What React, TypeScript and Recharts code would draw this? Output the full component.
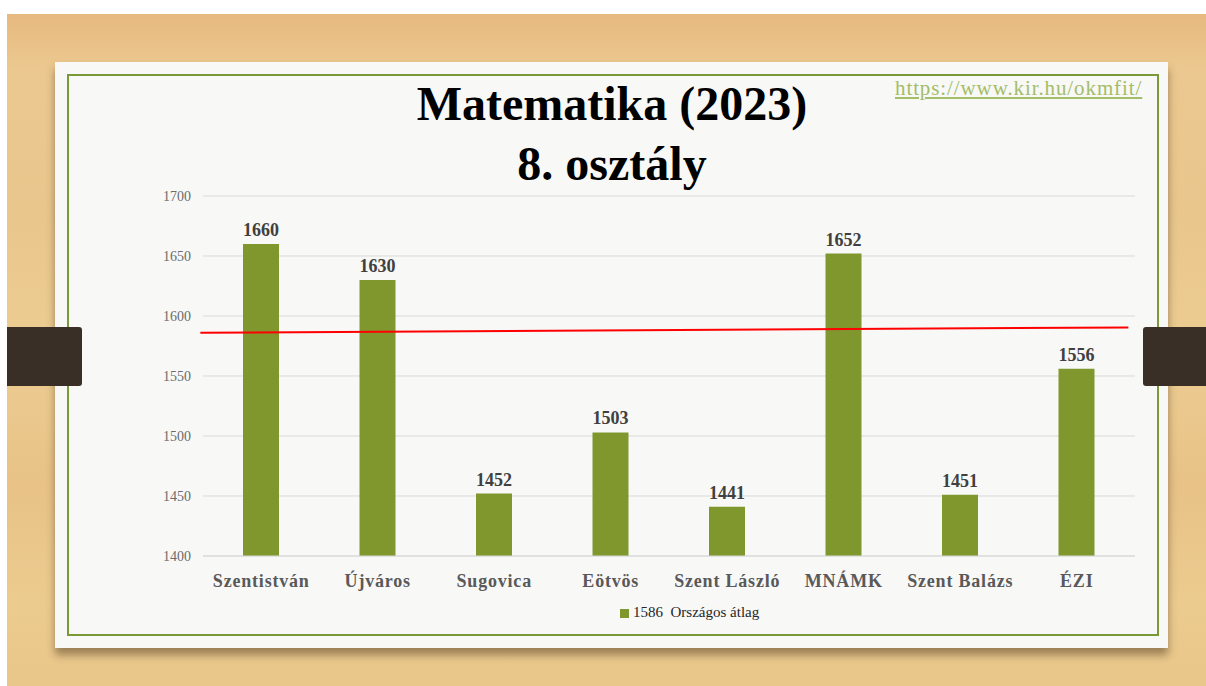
import React from "react";
import {
  ComposedChart,
  Bar,
  XAxis,
  YAxis,
  CartesianGrid,
  LabelList,
  ReferenceLine,
  Legend,
} from "recharts";

const schools = [
  "Szentistván",
  "Újváros",
  "Sugovica",
  "Eötvös",
  "Szent László",
  "MNÁMK",
  "Szent Balázs",
  "ÉZI",
];
const scores = [1660, 1630, 1452, 1503, 1441, 1652, 1451, 1556];
const yTicks = [1400, 1450, 1500, 1550, 1600, 1650, 1700];
// national average line (hand-drawn on the slide, slightly rising)
const averageLineEnds = [
  { x: -0.02, y: 1586 },
  { x: 6.95, y: 1590.5 },
];
const seriesName = "1586\u00a0\u00a0Országos átlag";
const titleLines = ["Matematika (2023)", "8. osztály"];
const sourceUrl = "https://www.kir.hu/okmfit/";

const data = schools.map((s, i) => ({ name: s, value: scores[i] }));

const SERIF = "'Liberation Serif', 'DejaVu Serif', serif";
const BAR = "#7f972c";

export default function App() {
  return (
    <div
      style={{
        position: "fixed",
        left: 0,
        top: 0,
        width: 1206,
        height: 686,
        overflow: "hidden",
        background: "#ffffff",
        fontFamily: SERIF,
      }}
    >
      {/* wood background */}
      <div
        style={{
          position: "absolute",
          left: 7,
          top: 14,
          width: 1199,
          height: 672,
          background:
            "linear-gradient(180deg, #e6b97f 0%, #ebc88f 8%, #e9c68c 30%, #edcd92 50%, #e8c287 70%, #eccb8f 88%, #e9c68a 100%)",
        }}
      />
      {/* card */}
      <div
        style={{
          position: "absolute",
          left: 55,
          top: 62,
          width: 1113,
          height: 586,
          background: "#f8f8f7",
          boxShadow: "0 7px 8px rgba(60,40,20,0.45)",
        }}
      />
      <div
        style={{
          position: "absolute",
          left: 67,
          top: 74,
          width: 1088,
          height: 558,
          border: "2px solid #7a9a3a",
        }}
      />
      {/* straps */}
      <div
        style={{
          position: "absolute",
          left: 7,
          top: 327,
          width: 75,
          height: 59,
          background: "#3a2f27",
          borderRadius: "0 3px 3px 0",
        }}
      />
      <div
        style={{
          position: "absolute",
          left: 1143,
          top: 327,
          width: 63,
          height: 59,
          background: "#3a2f27",
          borderRadius: "3px 0 0 3px",
        }}
      />
      {/* title */}
      <div
        style={{
          position: "absolute",
          left: 0,
          width: 1224,
          top: 74,
          textAlign: "center",
          fontWeight: "bold",
          fontSize: 48,
          lineHeight: "60px",
          color: "#000",
        }}
      >
        {titleLines.map((t) => (
          <div key={t}>{t}</div>
        ))}
      </div>
      {/* source url */}
      <div
        style={{
          position: "absolute",
          left: 895,
          top: 76,
          fontSize: 21,
          letterSpacing: 0.9,
          color: "#a4bd68",
          textDecoration: "underline",
        }}
      >
        {sourceUrl}
      </div>
      {/* chart */}
      <div style={{ position: "absolute", left: 130, top: 180 }}>
        <ComposedChart
          width={1020}
          height={460}
          data={data}
          margin={{ top: 16, right: 15, left: 0, bottom: 0 }}
        >
          <CartesianGrid vertical={false} stroke="#d9d9d9" />
          <XAxis
            dataKey="name"
            xAxisId="cat"
            tickLine={false}
            axisLine={{ stroke: "#d9d9d9" }}
            height={50}
            tickMargin={12}
            tick={{
              fontFamily: SERIF,
              fontSize: 18,
              fontWeight: "bold",
              fill: "#595959",
              letterSpacing: 0.8,
            }}
          />
          <XAxis
            xAxisId="line"
            type="number"
            domain={[0, 7]}
            allowDataOverflow
            hide
          />
          <YAxis
            width={73}
            domain={[1400, 1700]}
            ticks={yTicks}
            tickLine={false}
            axisLine={false}
            tickMargin={6}
            tick={{ fontFamily: SERIF, fontSize: 14, fill: "#6b6b6b" }}
          />
          <Bar
            xAxisId="cat"
            dataKey="value"
            name={seriesName}
            fill={BAR}
            barSize={36}
            isAnimationActive={false}
          >
            <LabelList
              dataKey="value"
              position="top"
              offset={8}
              style={{
                fontFamily: SERIF,
                fontSize: 18,
                fontWeight: "bold",
                fill: "#404040",
              }}
            />
          </Bar>
          <ReferenceLine
            xAxisId="line"
            segment={averageLineEnds}
            stroke="#ff0000"
            strokeWidth={2}
            ifOverflow="visible"
          />
          <Legend
            verticalAlign="bottom"
            align="left"
            height={34}
            iconType="square"
            iconSize={9}
            wrapperStyle={{ left: 490, width: 320, bottom: 3 }}
            formatter={(v: string) => (
              <span style={{ color: "#262626", fontSize: 15, fontFamily: SERIF }}>
                {v}
              </span>
            )}
          />
        </ComposedChart>
      </div>
    </div>
  );
}
